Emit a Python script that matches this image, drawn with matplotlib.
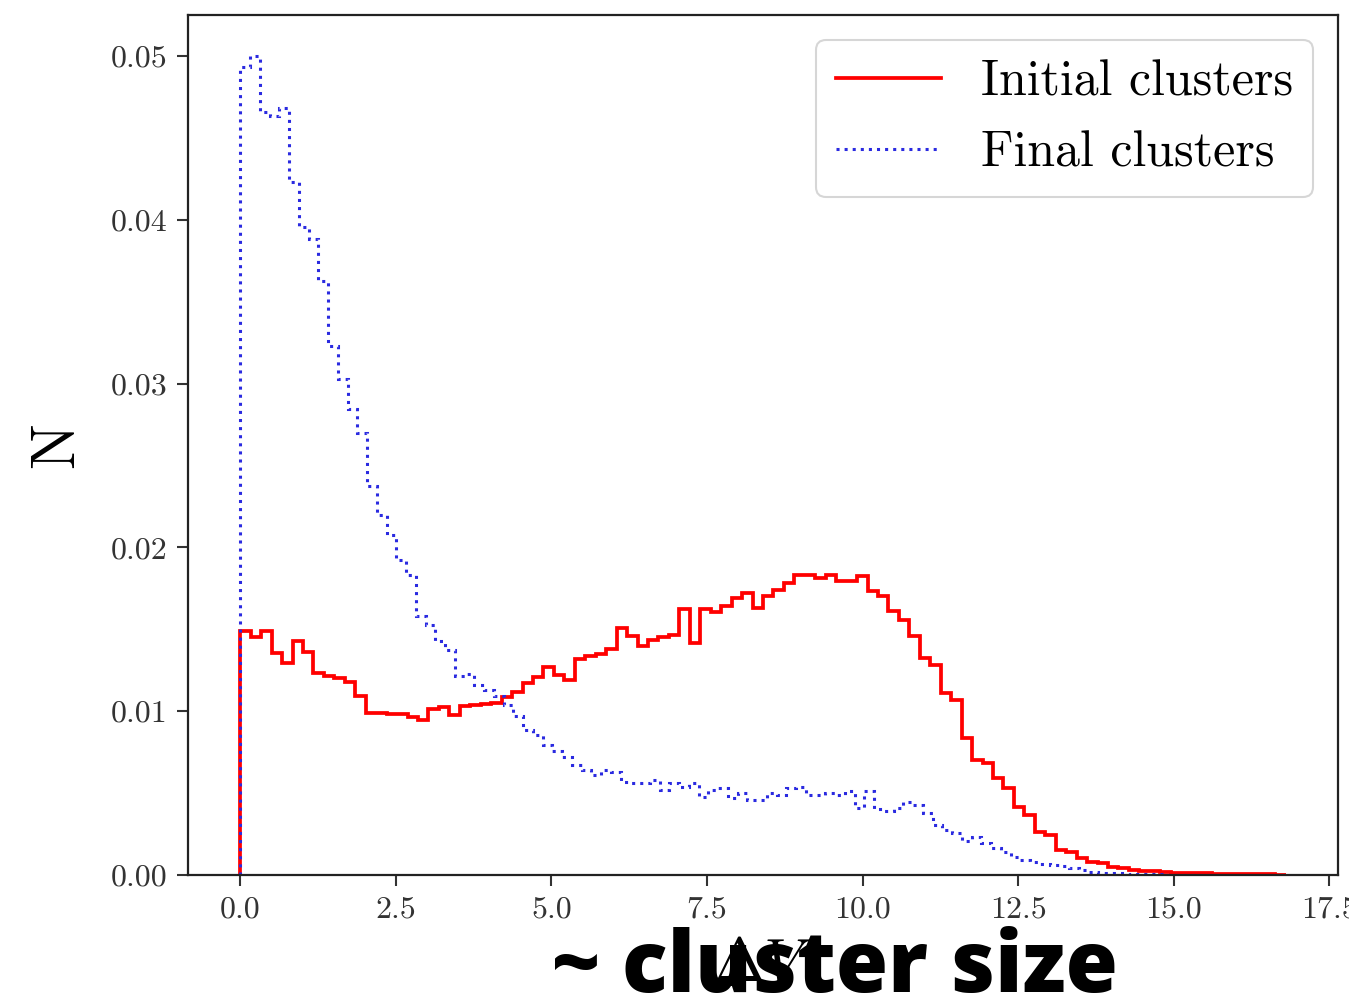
import numpy as np
import matplotlib
matplotlib.use("Agg")
import matplotlib.pyplot as plt
from matplotlib.lines import Line2D

plt.rcParams.update({
    "font.family": "serif",
    "font.serif": ["cmr10"],
    "mathtext.fontset": "cm",
    "axes.formatter.use_mathtext": True,
    "axes.unicode_minus": False,
})

# Histogram heights (normalised), 100 bins each
initial_range = (0.0, 16.8)
initial_counts = [
    0.0149, 0.01453, 0.0149, 0.01355, 0.01294, 0.01426, 0.01359, 0.01233, 0.01216, 0.01202,
    0.01176, 0.01094, 0.00988, 0.00988, 0.00984, 0.00984, 0.00964, 0.00947, 0.01013, 0.01025,
    0.00978, 0.01029, 0.01037, 0.01045, 0.01053, 0.01086, 0.01115, 0.01172, 0.01208, 0.01269,
    0.01222, 0.01192, 0.01318, 0.01335, 0.01351, 0.01378, 0.01508, 0.01457, 0.01396, 0.01436,
    0.01453, 0.01467, 0.01624, 0.01416, 0.01624, 0.01603, 0.0164, 0.01691, 0.01722, 0.0163,
    0.01701, 0.01742, 0.01783, 0.01834, 0.01834, 0.01813, 0.01834, 0.01793, 0.01793, 0.01823,
    0.01732, 0.01701, 0.01609, 0.01559, 0.01457, 0.01324, 0.01284, 0.01111, 0.0107, 0.00835,
    0.00703, 0.00683, 0.00591, 0.0053, 0.00418, 0.00367, 0.00265, 0.00245, 0.00153, 0.00143,
    0.00102, 0.00081, 0.00071, 0.00051, 0.00041, 0.0003, 0.00026, 0.00022, 0.0002, 0.00015,
    0.00015, 0.00013, 0.0001, 0.00009, 0.00008, 0.00007, 0.00006, 0.00005, 0.00004, 0.00003,
]

final_range = (0.0, 15.67)
final_counts = [
    0.0493, 0.0500, 0.04656, 0.04635, 0.04682, 0.04228, 0.03953, 0.03881, 0.03627, 0.03229,
    0.03026, 0.02842, 0.027, 0.02374, 0.022, 0.02078, 0.01925, 0.01834, 0.01579, 0.01528,
    0.01426, 0.01375, 0.01212, 0.01229, 0.01161, 0.01131, 0.0109, 0.01039, 0.00968, 0.00886,
    0.00856, 0.00795, 0.00754, 0.00723, 0.00672, 0.00642, 0.00611, 0.00638, 0.0063, 0.0057,
    0.0056, 0.0056, 0.00581, 0.0052, 0.0056, 0.0054, 0.0056, 0.00479, 0.0052, 0.0053,
    0.00469, 0.005, 0.00458, 0.00458, 0.005, 0.00489, 0.0053, 0.0054, 0.00489, 0.00489,
    0.005, 0.00489, 0.0051, 0.0041, 0.0051, 0.0040, 0.0039, 0.00407, 0.00448, 0.00428,
    0.00377, 0.00306, 0.00275, 0.00255, 0.00209, 0.0023, 0.00194, 0.00163, 0.00143, 0.00112,
    0.00092, 0.00081, 0.00067, 0.00061, 0.00057, 0.00041, 0.00031, 0.0002, 0.00014, 0.00012,
    0.0001, 0.00008, 0.00006, 0.00005, 0.00004, 0.00003, 0.00003, 0.00002, 0.00002, 0.00001,
]

labels = ["Initial clusters", "Final clusters"]
x_label = r"$\Delta V$"
y_label = "N"
y_ticks = [0.00, 0.01, 0.02, 0.03, 0.04, 0.05]
x_ticks = [0.0, 2.5, 5.0, 7.5, 10.0, 12.5, 15.0, 17.5]

red_style = dict(color="red", linewidth=2.7, linestyle="-")
blue_style = dict(color="#2a2ae0", linewidth=2.2, linestyle=":")

fig = plt.figure(figsize=(13.49, 10), dpi=100)
ax = fig.add_axes([0.1394, 0.125, 0.8524, 0.86])

edges_i = np.linspace(*initial_range, len(initial_counts) + 1)
edges_f = np.linspace(*final_range, len(final_counts) + 1)

ax.hist(0.5 * (edges_i[:-1] + edges_i[1:]), bins=edges_i, weights=initial_counts,
        histtype="step", **red_style)
ax.hist(0.5 * (edges_f[:-1] + edges_f[1:]), bins=edges_f, weights=final_counts,
        histtype="step", **blue_style)

ax.set_xticks(x_ticks)
ax.set_xticklabels([f"{t:.1f}" for t in x_ticks])
ax.set_yticks(y_ticks)
ax.set_yticklabels([f"{t:.2f}" for t in y_ticks])
ax.tick_params(labelsize=23, length=8, width=1.5, pad=7,
               color="#333333", labelcolor="#333333")
for s in ax.spines.values():
    s.set_linewidth(1.6)
    s.set_color("#222222")

ax.set_xlabel(x_label, fontsize=44, labelpad=10)
ax.set_ylabel(y_label, fontsize=44, labelpad=18)

handles = [Line2D([], [], **red_style), Line2D([], [], **blue_style)]
leg = ax.legend(handles, labels, fontsize=36, loc="upper right",
                handlelength=2.1, handletextpad=0.8)
leg.get_frame().set_edgecolor("#cccccc")
leg.get_frame().set_linewidth(1.5)

fig.text(0.619, 0.008, "~ cluster size", fontsize=61, fontweight="heavy",
         family="Open Sans", ha="center", va="baseline", color="black")

fig.savefig("out.png", dpi=100)
